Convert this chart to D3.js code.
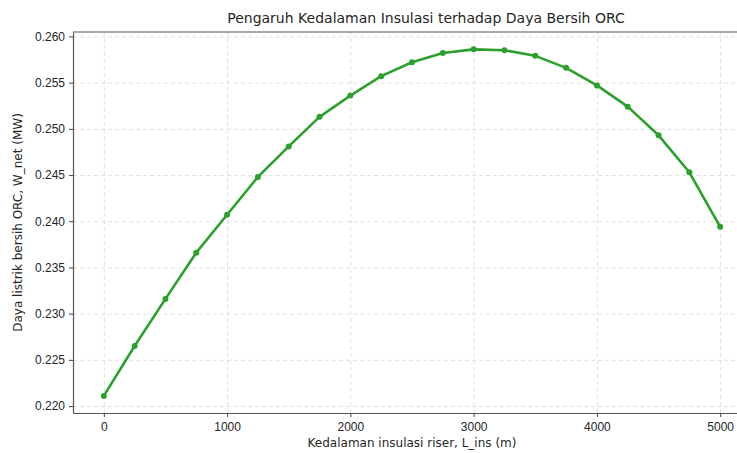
<!DOCTYPE html>
<html>
<head>
<meta charset="utf-8">
<script src="https://cdn.jsdelivr.net/npm/d3@7"></script>
<style>
    body { margin: 0; background: #fff; }
    svg { display: block; font-family: 'DejaVu Sans', sans-serif; }
    .grid line { stroke: #d8d8d8; stroke-dasharray: 4,3; stroke-width: 0.8; }
    .grid .domain { display: none; }
    .axis text { font-size: 12px; fill: #262626; }
    .axis line { stroke: #444; }
    .axis .domain { stroke: #555; stroke-width: 1.2; }
    .label { font-size: 12px; fill: #262626; }
    .title { font-size: 14px; fill: #262626; }
</style>
</head>
<body>
<script>
(function () {

    'use strict'

    // insulation depth (m) and net ORC power (MW)
    const depth = [0, 250, 500, 750, 1000, 1250, 1500, 1750, 2000, 2250, 2500,
        2750, 3000, 3250, 3500, 3750, 4000, 4250, 4500, 4750, 5000]
    const wNet = [0.2211, 0.2265, 0.2316, 0.2366, 0.2407, 0.2448, 0.2481, 0.2513, 0.2536, 0.2557, 0.2572,
        0.2582, 0.2586, 0.2585, 0.2579, 0.2566, 0.2547, 0.2524, 0.2493, 0.2453, 0.2394]
    const xTicks = [0, 1000, 2000, 3000, 4000, 5000]
    const yTicks = [0.220, 0.225, 0.230, 0.235, 0.240, 0.245, 0.250, 0.255, 0.260]

    const W = 737, H = 453
    const margin = { top: 32, right: -14, bottom: 40, left: 73 }
        , width = W - margin.left - margin.right
        , height = H - margin.top - margin.bottom

    const data = depth.map((d, i) => ({ x: d, y: wNet[i] }))

    const svg = d3.select('body')
        .append('svg')
        .attr('width', W)
        .attr('height', H)

    const xScale = d3.scaleLinear()
        .domain([-250, 5250])
        .range([0, width])

    const yScale = d3.scaleLinear()
        .domain([0.21925, 0.26048])
        .range([height, 0])

    const g = svg.append('g')
        .attr('transform', 'translate(' + margin.left + ',' + margin.top + ')')

    // grid
    g.append('g')
        .attr('class', 'grid')
        .attr('transform', 'translate(0,' + height + ')')
        .call(d3.axisBottom(xScale).tickValues(xTicks).tickSize(-height).tickFormat(''))
    g.append('g')
        .attr('class', 'grid')
        .call(d3.axisLeft(yScale).tickValues(yTicks).tickSize(-width).tickFormat(''))

    // top spine
    g.append('line')
        .attr('x1', 0).attr('x2', width)
        .attr('y1', 0).attr('y2', 0)
        .attr('stroke', '#555').attr('stroke-width', 1.2)

    // axes
    g.append('g')
        .attr('class', 'axis')
        .attr('transform', 'translate(0,' + height + ')')
        .call(d3.axisBottom(xScale).tickValues(xTicks).tickSize(4).tickPadding(5).tickSizeOuter(0)
            .tickFormat(d3.format('d')))
    g.append('g')
        .attr('class', 'axis')
        .call(d3.axisLeft(yScale).tickValues(yTicks).tickSize(4).tickPadding(4).tickSizeOuter(0)
            .tickFormat(d3.format('.3f')))

    // line + dots
    const line = d3.line()
        .x(d => xScale(d.x))
        .y(d => yScale(d.y))

    g.append('path')
        .datum(data)
        .attr('d', line)
        .attr('fill', 'none')
        .attr('stroke', '#2ca02c')
        .attr('stroke-width', 2.6)
        .attr('stroke-linejoin', 'round')

    g.selectAll('.dot')
        .data(data)
        .enter()
        .append('circle')
        .attr('class', 'dot')
        .attr('cx', d => xScale(d.x))
        .attr('cy', d => yScale(d.y))
        .attr('r', 3)
        .attr('fill', '#2ca02c')

    // labels
    svg.append('text')
        .attr('class', 'title')
        .attr('x', 426)
        .attr('y', 23)
        .attr('text-anchor', 'middle')
        .text('Pengaruh Kedalaman Insulasi terhadap Daya Bersih ORC')

    svg.append('text')
        .attr('class', 'label')
        .attr('x', 412)
        .attr('y', 447)
        .attr('text-anchor', 'middle')
        .text('Kedalaman insulasi riser, L_ins (m)')

    svg.append('text')
        .attr('class', 'label')
        .attr('transform', 'translate(22,' + (margin.top + height / 2) + ') rotate(-90)')
        .attr('text-anchor', 'middle')
        .text('Daya listrik bersih ORC, W_net (MW)')
})()
</script>
</body>
</html>
